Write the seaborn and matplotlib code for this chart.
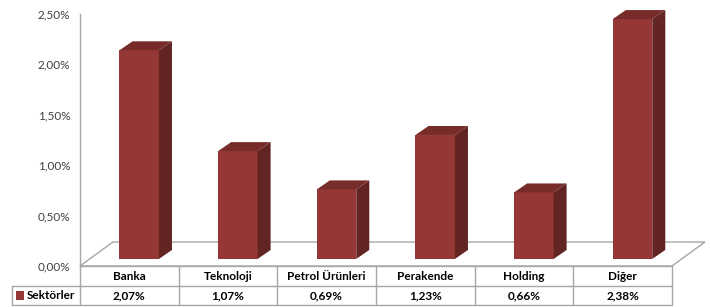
import matplotlib
matplotlib.use("Agg")
import matplotlib.pyplot as plt
from matplotlib.patches import Polygon, Rectangle
from matplotlib.ticker import FuncFormatter
import seaborn as sns

# veri
categories = ['Banka', 'Teknoloji', 'Petrol Ürünleri', 'Perakende', 'Holding', 'Diğer']
values = [2.07, 1.07, 0.69, 1.23, 0.66, 2.38]
value_labels = ['2,07%', '1,07%', '0,69%', '1,23%', '0,66%', '2,38%']
series_name = 'Sektörler'

sns.set_style("white")
plt.rcParams['font.family'] = ['Lato', 'DejaVu Sans']

front_c = '#953735'
side_c = '#632523'
top_c = '#772c2a'
line_c = '#a6a6a6'

fig = plt.figure(figsize=(7.1, 3.07), dpi=100)
ax = fig.add_axes([80 / 710, 1 - 266 / 307, 592 / 710, 252 / 307])

sns.barplot(x=categories, y=values, color=front_c, width=0.4, saturation=1,
            linewidth=0, ax=ax)

# 3D görünüm: kaydırma ve yan/üst yüzler
dx, dy = 0.132, 0.089
base = 0.07
for p in ax.patches:
    p.set_x(p.get_x() + 0.1)
    p.set_y(base)
    p.set_clip_on(False)
    x0 = p.get_x()
    x1 = x0 + p.get_width()
    y1 = base + p.get_height()
    side = Polygon([(x1, base), (x1 + dx, base + dy), (x1 + dx, y1 + dy), (x1, y1)],
                   closed=True, facecolor=side_c, edgecolor='none', clip_on=False)
    top = Polygon([(x0, y1), (x0 + dx, y1 + dy), (x1 + dx, y1 + dy), (x1, y1)],
                  closed=True, facecolor=top_c, edgecolor='none', clip_on=False)
    ax.add_patch(side)
    ax.add_patch(top)

# zemin
n = len(categories)
fdx, fdy = 0.334, 0.238
floor = Polygon([(-0.5, 0), (-0.5 + fdx, fdy), (n - 0.5 + fdx, fdy), (n - 0.5, 0)],
                closed=True, facecolor='none', edgecolor=line_c, linewidth=1,
                clip_on=False, zorder=0)
ax.add_patch(floor)

ax.set_xlim(-0.5, n - 0.5)
ax.set_ylim(0, 2.5)
ax.set_yticks([0, 0.5, 1.0, 1.5, 2.0, 2.5])
ax.yaxis.set_major_formatter(FuncFormatter(lambda v, _: f"{v:.2f}%".replace('.', ',')))
ax.tick_params(axis='y', length=0, pad=7, labelsize=8.5, labelcolor='#404040')
ax.set_xticks([])
ax.set_xlabel('')
ax.set_ylabel('')
for s in ['top', 'right', 'bottom']:
    ax.spines[s].set_visible(False)
ax.spines['left'].set_color(line_c)
ax.spines['left'].set_linewidth(1)

# veri tablosu
tr = ax.get_xaxis_transform()
y_top, y_mid, y_bot = 0, -20 / 252, -39 / 252
x_leg = -0.5 - 68 / 98.67
kw = dict(color=line_c, linewidth=1, transform=tr, clip_on=False)
ax.plot([-0.5, n - 0.5], [y_top, y_top], **kw)
ax.plot([x_leg, n - 0.5], [y_mid, y_mid], **kw)
ax.plot([x_leg, n - 0.5], [y_bot, y_bot], **kw)
ax.plot([x_leg, x_leg], [y_mid, y_bot], **kw)
for i in range(n + 1):
    ax.plot([i - 0.5, i - 0.5], [y_top, y_bot], **kw)

for i, (c, v) in enumerate(zip(categories, value_labels)):
    ax.text(i, (y_top + y_mid) / 2, c, transform=tr, ha='center', va='center',
            fontsize=8.5, fontweight='bold', color='black')
    ax.text(i, (y_mid + y_bot) / 2, v, transform=tr, ha='center', va='center',
            fontsize=8.5, fontweight='bold', color='black')

ax.add_patch(Rectangle((x_leg + 0.045, (y_mid + y_bot) / 2 - 0.016), 0.075, 0.032,
                       transform=tr, facecolor=front_c, edgecolor='none', clip_on=False))
ax.text(x_leg + 0.15, (y_mid + y_bot) / 2, series_name, transform=tr, ha='left',
        va='center', fontsize=8.5, fontweight='bold', color='black')

fig.savefig('out.png', dpi=100)
